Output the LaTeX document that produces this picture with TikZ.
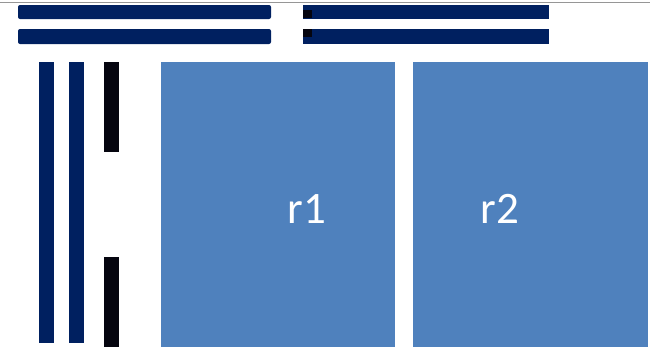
\documentclass[tikz,border=0pt]{standalone}
\usepackage{fontspec}
\setmainfont{Carlito}
\usetikzlibrary{positioning}
\definecolor{mynavy}{RGB}{0,32,96}
\definecolor{myblack}{RGB}{5,5,15}
\definecolor{myblue}{RGB}{79,129,189}
\definecolor{mygray}{RGB}{150,150,150}
\tikzset{
  navybar/.style={fill=mynavy},
  blackbar/.style={fill=myblack},
  room/.style={fill=myblue},
  roomlabel/.style={text=white, font=\fontsize{45}{54}\selectfont, inner sep=0pt}
}
\begin{document}
\begin{tikzpicture}[x=1pt, y=-1pt]
  \useasboundingbox (0,0) rectangle (650,348);

  % thin line along the top edge
  \draw[mygray, line width=0.8pt] (0,2) -- (650,2);

  % horizontal bars, left pair
  \fill[navybar, rounded corners=2pt] (18,5) rectangle (271,19);
  \fill[navybar, rounded corners=2pt] (18,29) rectangle (271,44);

  % horizontal bars, right pair (dark ends on the left)
  \fill[navybar] (303,5) rectangle (549,19);
  \fill[navybar] (303,29) rectangle (549,44);
  \fill[blackbar] (303,10) rectangle (312,18);
  \fill[blackbar] (303,29) rectangle (312,37);

  % vertical bars
  \fill[navybar] (39,62) rectangle (54,343);
  \fill[navybar] (69,62) rectangle (84,343);
  \fill[blackbar] (104,62) rectangle (119,152);
  \fill[blackbar] (104,257) rectangle (119,347);

  % rooms
  \fill[room] (161,62) rectangle (395,347);
  \fill[room] (413,62) rectangle (648,347);
  \node[roomlabel] (r1) at (307,209) {r1};
  \node[roomlabel] (r2) at (500,209) {r2};
\end{tikzpicture}
\end{document}
